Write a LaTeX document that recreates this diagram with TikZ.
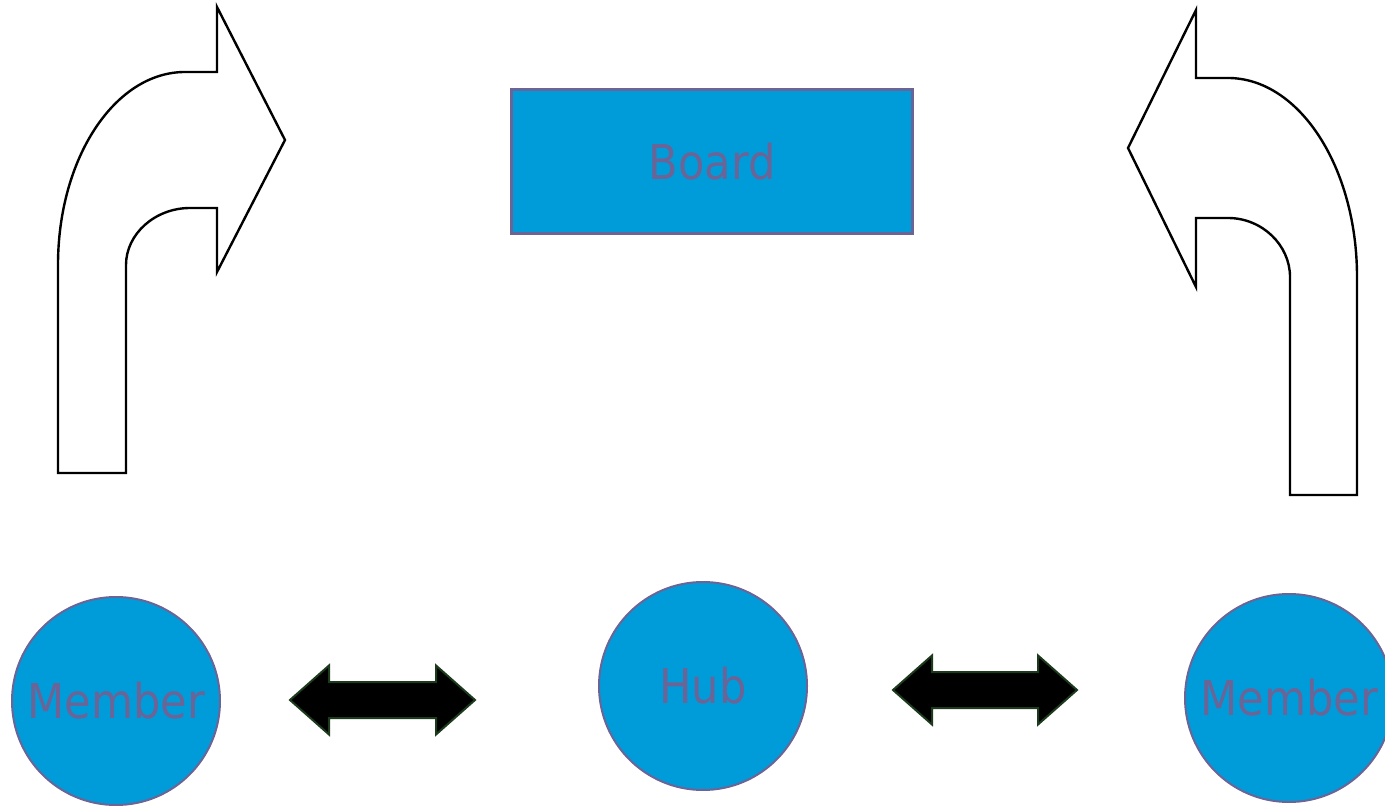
\documentclass[tikz,border=0pt]{standalone}
\usepackage{fontspec}
\setmainfont{DejaVu Sans Condensed}
\usepackage{tikz}
\usetikzlibrary{shapes.arrows}
\definecolor{hubblue}{HTML}{009CDA}
\definecolor{labelgrey}{HTML}{6B6497}
\definecolor{linkgreen}{HTML}{1C3A1C}

\begin{document}
\begin{tikzpicture}[x=0.5pt,y=-0.5pt,font=\fontsize{24}{28}\selectfont,
 body/.style={fill=hubblue,draw=labelgrey,text=labelgrey,inner sep=0pt},
 member/.style={body,circle,line width=1pt,minimum size=104pt},
 link/.style={double arrow,fill=black,draw=linkgreen,line width=1pt,inner xsep=0pt,inner ysep=8.5pt,
  minimum width=33.5pt,double arrow head extend=8.25pt,double arrow tip angle=83},
 turn/.style={draw=black,fill=white,line width=1.2pt,line join=miter}]
\useasboundingbox (0,0) rectangle (1385,806);
\node[body,rectangle,line width=1.5pt,minimum width=200.5pt,minimum height=72pt] (board) at (712,162) {Board};
\node[member] (left) at (116,701) {Member};
\node[member] (hub) at (703,686) {Hub};
\node[member] (right) at (1289,698) {Member};
\node[link,minimum height=92.5pt] (linkL) at (382.5,700) {};
\node[link,minimum height=92pt] (linkR) at (985,690) {};
% turning arrows on both sides of the board
\draw[turn] (58,473) -- (58,265) .. controls (58,158) and (115,72) .. (185,72) -- (217,72) -- (217,7)
 -- (285,140) -- (217,272) -- (217,208) -- (190,208) .. controls (155,208) and (126,234) .. (126,265) -- (126,473) -- cycle;
\draw[turn] (1357,495) -- (1357,277) .. controls (1357,167) and (1299,78) .. (1228,78) -- (1196,78) -- (1196,10)
 -- (1128,148) -- (1196,287) -- (1196,218) -- (1228,218) .. controls (1262,218) and (1290,245) .. (1290,277) -- (1290,495) -- cycle;
\end{tikzpicture}
\end{document}
